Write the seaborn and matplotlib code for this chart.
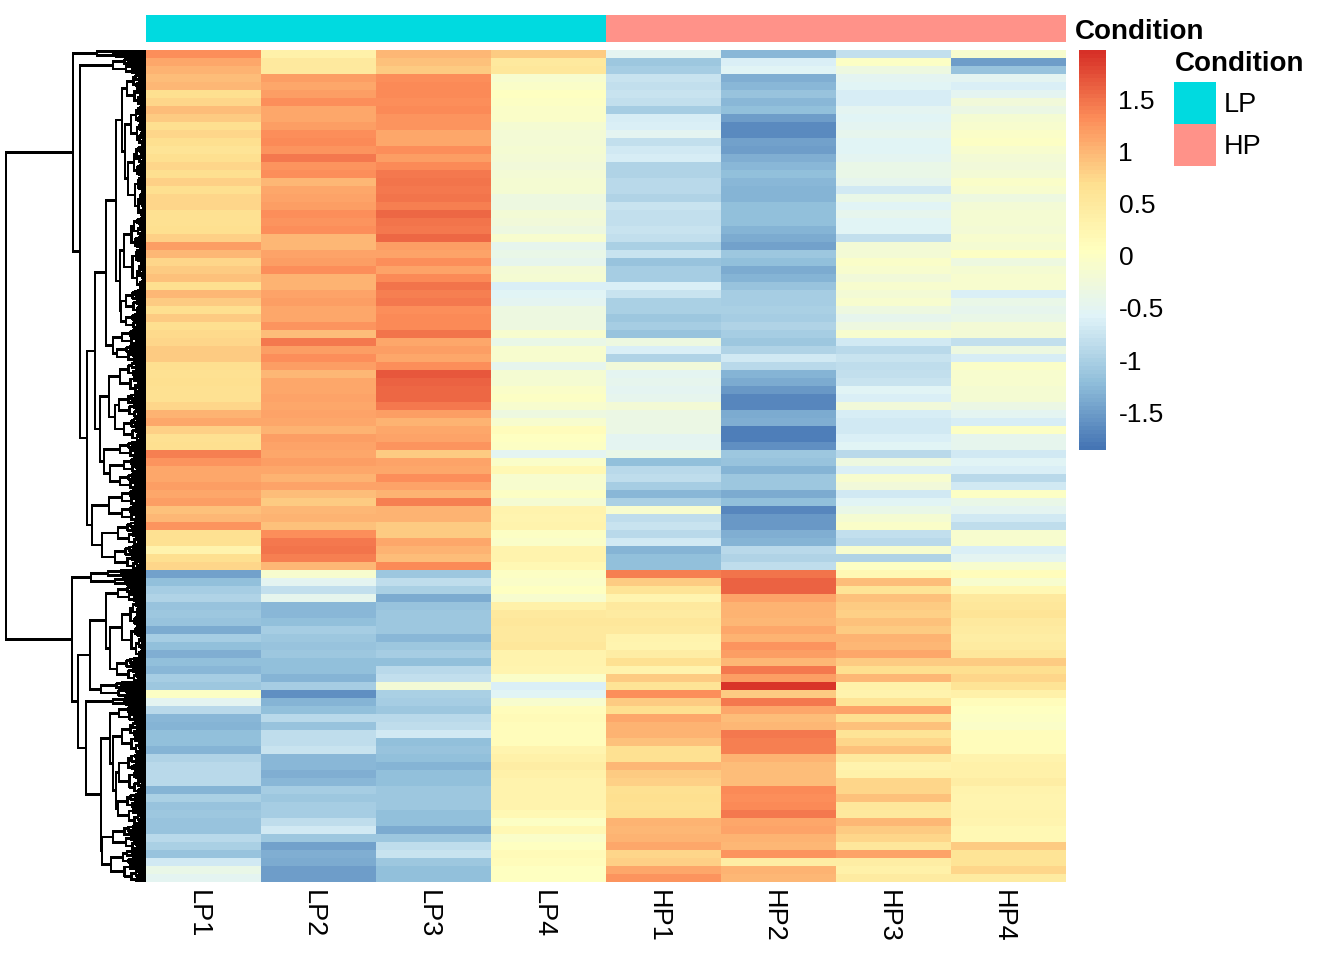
import matplotlib
matplotlib.use("Agg")
import matplotlib.pyplot as plt
from matplotlib.transforms import ScaledTranslation
import numpy as np
import pandas as pd
import seaborn as sns

# values, one list per sample, top row first
LP1 = [1.3, 1.1, 1.05, 0.95, 1.0, 0.68, 0.75, 0.95, 0.85, 0.7, 0.78, 0.68, 0.62, 0.7, 0.75, 0.68, 0.8, 0.68, 0.75, 0.78, 0.66, 0.66, 0.7, 0.8, 1.2, 1.0, 0.78, 0.85, 0.9, 0.68, 1.0, 0.85, 0.68,
       0.85, 0.7, 0.72, 0.78, 0.85, 0.85, 0.7, 0.65, 0.68, 0.64, 0.64, 0.78, 1.05, 1.1, 0.8, 0.65, 0.68, 1.4, 1.25, 1.1, 1.1, 1.2, 1.1, 1.2, 0.9, 1.0, 1.25, 0.65, 0.65, 0.3, 0.7, 0.78,
       -1.45, -1.2, -1.05, -0.95, -1.15, -1.1, -1.15, -1.4, -1.05, -1.2, -1.35, -1.2, -1.25, -1.05, -1.1, 0.0, -0.5, -0.9, -1.25, -1.3, -1.2, -1.2, -1.3, -0.95, -0.9, -0.9, -0.9, -1.3, -1.0, -1.15, -1.1, -1.15, -1.15, -0.9, -1.0, -1.15, -0.7, -0.4, -0.5]
LP2 = [0.35, 0.5, 0.5, 1.2, 1.1, 1.2, 1.3, 1.1, 1.1, 1.2, 1.3, 1.35, 1.25, 1.45, 1.25, 1.3, 1.0, 1.1, 1.15, 1.2, 1.3, 1.25, 1.3, 1.0, 1.0, 1.15, 1.2, 1.3, 1.05, 1.05, 1.15, 1.2, 1.1,
       1.1, 1.25, 0.95, 1.45, 1.2, 1.3, 1.2, 1.0, 1.1, 1.1, 1.15, 1.1, 1.15, 1.1, 1.05, 1.2, 1.15, 1.1, 1.2, 1.1, 1.05, 1.15, 0.95, 0.85, 1.0, 1.05, 0.9, 1.3, 1.45, 1.5, 1.4, 1.0,
       -0.1, -0.5, -0.8, -0.45, -1.25, -1.25, -1.2, -1.05, -1.1, -1.15, -1.1, -1.2, -1.2, -1.3, -1.05, -1.6, -1.3, -1.2, -0.9, -1.15, -0.85, -0.85, -0.75, -1.25, -1.25, -1.35, -1.25, -1.05, -1.1, -1.05, -1.05, -0.85, -0.7, -1.1, -1.45, -1.35, -1.4, -1.5, -1.5]
LP3 = [1.0, 0.9, 0.85, 1.3, 1.35, 1.35, 1.3, 1.35, 1.25, 1.25, 1.1, 1.1, 1.3, 1.2, 1.35, 1.45, 1.5, 1.45, 1.5, 1.4, 1.55, 1.5, 1.45, 1.55, 1.2, 1.15, 1.3, 1.15, 1.35, 1.5, 1.4, 1.45, 1.3,
       1.35, 1.35, 1.5, 1.1, 1.2, 1.1, 1.3, 1.7, 1.6, 1.55, 1.55, 1.45, 1.2, 1.05, 1.1, 1.15, 1.25, 0.85, 1.15, 1.1, 1.3, 1.15, 1.05, 1.4, 1.05, 1.05, 0.85, 0.85, 1.1, 1.05, 0.95, 1.35,
       -1.1, -0.85, -1.0, -1.4, -1.15, -1.1, -1.1, -1.1, -1.25, -1.1, -1.05, -1.2, -0.9, -0.8, -0.2, -1.0, -1.05, -1.1, -0.9, -0.85, -0.7, -1.2, -1.15, -1.2, -1.3, -1.2, -1.2, -1.1, -1.1, -1.1, -1.2, -1.2, -1.4, -1.1, -0.85, -0.75, -1.1, -1.2, -1.2]
LP4 = [0.85, 0.5, 0.55, -0.1, -0.05, 0.05, 0.0, -0.05, -0.05, -0.15, -0.2, -0.2, -0.15, -0.2, -0.25, -0.2, -0.15, -0.15, -0.3, -0.3, -0.2, -0.25, -0.3, -0.1, -0.45, -0.4, -0.45, -0.2, -0.15, -0.6, -0.55, -0.5, -0.3,
       -0.3, -0.3, -0.1, -0.4, -0.1, -0.1, -0.45, -0.15, -0.15, -0.05, 0.0, -0.1, -0.3, -0.1, 0.1, 0.05, 0.0, -0.5, -0.05, 0.2, -0.1, -0.1, 0.0, -0.15, 0.3, 0.25, 0.3, 0.0, -0.05, 0.3, 0.3, 0.2,
       0.0, -0.05, 0.05, -0.1, 0.35, 0.5, 0.55, 0.5, 0.5, 0.55, 0.3, 0.3, 0.25, -0.05, -0.6, -0.55, -0.1, 0.1, 0.15, 0.1, 0.1, 0.1, 0.25, 0.35, 0.4, 0.35, 0.3, 0.3, 0.3, 0.3, 0.2, 0.0, 0.2, -0.05, 0.05, 0.15, 0.1, 0.05, 0.05]
HP1 = [-0.5, -1.1, -1.05, -0.75, -0.8, -0.75, -0.8, -1.05, -0.65, -0.6, -0.5, -0.8, -0.7, -0.65, -0.95, -0.95, -0.9, -0.9, -0.95, -0.75, -0.8, -0.8, -0.75, -0.8, -1.0, -0.75, -1.15, -1.05, -1.05, -0.6, -0.75, -1.0, -1.0,
       -1.1, -1.05, -1.15, -0.3, -0.6, -0.95, -0.25, -0.5, -0.45, -0.5, -0.45, -0.2, -0.35, -0.35, -0.35, -0.5, -0.5, -0.4, -1.2, -0.9, -0.85, -1.05, -1.25, -1.0, -0.1, -0.85, -0.75, -0.9, -0.7, -1.3, -1.2, -1.2,
       1.4, 0.85, 0.6, 0.25, 0.5, 0.45, 0.55, 0.5, 0.3, 0.25, 0.4, 0.65, 0.3, 0.85, 0.6, 1.3, 0.85, 0.7, 1.1, 1.05, 1.05, 0.9, 0.65, 0.65, 1.0, 0.85, 0.8, 0.65, 0.7, 0.65, 0.7, 1.05, 1.0, 1.05, 1.1, 0.75, 0.8, 1.1, 1.25]
HP2 = [-1.25, -0.6, -0.55, -1.35, -1.25, -1.15, -1.25, -1.2, -1.5, -1.65, -1.65, -1.45, -1.5, -1.35, -1.25, -1.2, -1.25, -1.3, -1.3, -1.2, -1.2, -1.2, -1.3, -1.4, -1.45, -1.1, -1.2, -1.4, -1.3, -1.15, -1.05, -1.05, -1.0,
       -1.05, -0.95, -1.05, -1.1, -0.95, -0.7, -0.9, -1.3, -1.4, -1.55, -1.7, -1.7, -1.4, -1.35, -1.75, -1.75, -1.6, -1.1, -1.15, -1.3, -1.1, -1.1, -1.4, -1.2, -1.7, -1.55, -1.55, -1.35, -1.3, -0.9, -0.95, -0.85,
       1.5, 1.6, 1.6, 1.15, 1.05, 1.05, 1.0, 1.1, 1.05, 1.25, 1.2, 1.0, 1.45, 1.2, 1.9, 0.85, 1.45, 1.1, 0.95, 1.0, 1.45, 1.4, 1.4, 1.05, 0.95, 0.95, 0.95, 1.35, 1.3, 1.35, 1.45, 1.1, 1.15, 1.05, 1.0, 1.25, 0.4, 1.05, 1.0]
HP3 = [-0.8, 0.0, -0.3, -0.5, -0.55, -0.65, -0.65, -0.5, -0.55, -0.5, -0.45, -0.55, -0.55, -0.5, -0.4, -0.4, -0.45, -0.7, -0.4, -0.55, -0.45, -0.55, -0.55, -0.8, -0.2, -0.2, -0.05, -0.1, -0.25, -0.1, -0.2, -0.1, -0.3,
       -0.45, -0.3, -0.1, -0.7, -0.9, -0.75, -0.85, -0.8, -0.75, -0.55, -0.6, -0.25, -0.65, -0.7, -0.7, -0.6, -0.55, -0.9, -0.3, -0.6, -0.1, -0.25, -0.7, -0.55, -0.4, -0.15, -0.05, -0.8, -0.9, -0.1, -0.95, 0.0,
       0.2, 0.95, 0.6, 0.9, 0.85, 0.8, 0.9, 0.85, 1.05, 1.0, 1.1, 0.85, 0.7, 1.0, 0.35, 0.3, 0.6, 1.15, 0.7, 0.9, 0.6, 0.75, 0.9, 0.5, 0.3, 0.35, 0.75, 0.75, 0.9, 0.55, 0.5, 1.0, 0.85, 0.75, 0.55, 1.15, 0.4, 0.35, 0.45]
HP4 = [-0.1, -1.5, -1.15, -0.5, -0.6, -0.5, -0.25, -0.35, -0.15, -0.1, -0.05, 0.0, -0.1, -0.2, -0.25, -0.2, -0.05, -0.1, -0.3, -0.2, -0.15, -0.15, -0.2, -0.1, -0.15, 0.0, -0.3, -0.15, -0.1, -0.1, -0.6, -0.4, -0.45,
       -0.4, -0.2, -0.2, -0.8, -0.3, -0.65, -0.05, -0.1, -0.1, -0.15, -0.15, -0.35, -0.5, -0.65, 0.0, -0.45, -0.45, -0.7, -0.55, -0.6, -0.9, -0.7, 0.0, -0.4, -0.5, -0.7, -0.85, -0.1, -0.1, -0.6, -0.5, -0.1,
       0.1, -0.1, 0.2, 0.5, 0.55, 0.6, 0.5, 0.45, 0.4, 0.45, 0.55, 0.85, 0.7, 0.75, 0.6, 0.35, 0.1, 0.05, 0.0, -0.05, 0.1, 0.1, 0.1, 0.3, 0.35, 0.35, 0.4, 0.3, 0.25, 0.25, 0.3, 0.25, 0.2, 0.2, 0.85, 0.6, 0.6, 0.75, 0.45]

SAMPLES = ["LP1", "LP2", "LP3", "LP4", "HP1", "HP2", "HP3", "HP4"]
CONDITION = [0, 0, 0, 0, 1, 1, 1, 1]
CONDITION_NAMES = ["LP", "HP"]
CONDITION_COLORS = ["#00DAE0", "#FF9289"]
HEAT_COLORS = ["#4575B4", "#91BFDB", "#E0F3F8", "#FFFFBF", "#FEE090", "#FC8D59", "#D73027"]
CBAR_TICKS = [1.5, 1, 0.5, 0, -0.5, -1, -1.5]
CBAR_LABELS = ["1.5", "1", "0.5", "0", "-0.5", "-1", "-1.5"]
VMIN, VMAX = -1.86, 1.97

# row tree: (height, left, right), lists are bushes [height, first row, last row]
TREE_D1A = (30, (24, [19, 3, 6], (21, [15, 7, 11], [18, 12, 20])),
            (26, [22, 21, 29], (25, [20, 30, 32], [20, 33, 34])))
TREE_D1 = (40, TREE_D1A, (33, [24, 35, 36], [29, 37, 38]))
TREE_D2 = (46, (37, [26, 39, 42], (31, [27, 43, 45], [22, 46, 48])),
           (42, [26, 49, 50], (36, [22, 51, 52], [26, 53, 54])))
TREE_E = (54, (37, [24, 55, 56], [24, 57, 58]), (44, [28, 59, 61], [31, 62, 64]))
TREE_TOP = (73, [49, 0, 0], (66, [33, 1, 2], (59, (51, TREE_D1, TREE_D2), TREE_E)))
TREE_BE = (40, [28, 67, 68], (36, [24, 69, 75], [29, 76, 78]))
TREE_BG = (36, [27, 82, 83], (33, [24, 84, 87], (30, [27, 88, 92], [28, 93, 96])))
TREE_BF = (45, TREE_BG, (44, [33, 97, 99], [35, 100, 103]))
TREE_BOTTOM = (74, (55, [38, 65, 65], [31, 66, 66]),
               (68, (56, TREE_BE, [45, 79, 80]), (60, [33, 81, 81], TREE_BF)))
TREE = (140, TREE_TOP, TREE_BOTTOM)

BUSH_SPLITS = [0.42, 0.6, 0.35, 0.55, 0.68, 0.45, 0.3]
BUSH_DROPS = [0.66, 0.82, 0.74, 0.86, 0.7]

W, H = 1344, 960
plt.rcParams["font.family"] = ["Liberation Sans", "DejaVu Sans"]


def px_axes(fig, x0, y0, x1, y1):
    return fig.add_axes([x0 / W, 1 - y1 / H, (x1 - x0) / W, (y1 - y0) / H])


def draw_bush(xs, ys, top, bottom, height, depth=0):
    if bottom - top < 0.17 or height < 1.5:
        return (top + bottom) / 2, 0
    cut = top + (bottom - top) * BUSH_SPLITS[depth % len(BUSH_SPLITS)]
    drop = BUSH_DROPS[depth % len(BUSH_DROPS)]
    y_a = draw_bush(xs, ys, top, cut, height * drop, depth + 1)
    y_b = draw_bush(xs, ys, cut, bottom, height * drop * 0.92, depth + 2)
    return join(xs, ys, height, y_a, y_b), height


def join(xs, ys, height, a, b):
    xs += [a[1], height, height, b[1], np.nan]
    ys += [a[0], a[0], b[0], b[0], np.nan]
    return (a[0] + b[0]) / 2


def draw_tree(xs, ys, node):
    if isinstance(node, list):
        return draw_bush(xs, ys, node[1], node[2] + 1, node[0])
    a = draw_tree(xs, ys, node[1])
    b = draw_tree(xs, ys, node[2])
    return join(xs, ys, node[0], a, b), node[0]


data = pd.DataFrame(dict(zip(SAMPLES, [LP1, LP2, LP3, LP4, HP1, HP2, HP3, HP4])))
palette = sns.blend_palette(HEAT_COLORS, 100)

fig = plt.figure(figsize=(W / 100, H / 100), dpi=100)

# main heatmap and its colour bar
ax = px_axes(fig, 146, 50, 1066, 882)
cax = px_axes(fig, 1079, 50, 1106, 450)
sns.heatmap(data, ax=ax, cmap=palette, vmin=VMIN, vmax=VMAX, cbar_ax=cax, yticklabels=False)
ax.tick_params(axis="x", length=0, pad=6, labelsize=19.5)
plt.setp(ax.get_xticklabels(), rotation=270, ha="center", va="top")
ax.set_xlabel("")
shift = ScaledTranslation(-6 / 100, 0, fig.dpi_scale_trans)
for label in ax.get_xticklabels():
    label.set_transform(label.get_transform() + shift)

cax.set_yticks(CBAR_TICKS)
cax.set_yticklabels(CBAR_LABELS, fontsize=19)
cax.tick_params(axis="y", length=0, pad=9)

# annotation bar
bar_ax = px_axes(fig, 146, 15, 1066, 42)
sns.heatmap([CONDITION], ax=bar_ax, cmap=CONDITION_COLORS, cbar=False, xticklabels=False, yticklabels=False)
fig.text(1075 / W, 1 - 32 / H, "Condition", fontsize=20, fontweight="bold", va="center", ha="left")

# legend
legend_ax = px_axes(fig, 1174, 82, 1216, 166)
sns.heatmap([[0], [1]], ax=legend_ax, cmap=CONDITION_COLORS, cbar=False, xticklabels=False, yticklabels=False)
fig.text(1175 / W, 1 - 64 / H, "Condition", fontsize=20, fontweight="bold", va="center", ha="left")
for i, name in enumerate(CONDITION_NAMES):
    legend_ax.text(1.19, i + 0.55, name, fontsize=19.5, va="center", ha="left")

# row dendrogram
tree_ax = px_axes(fig, 0, 50, 146, 882)
xs, ys = [], []
draw_tree(xs, ys, TREE)
tree_ax.plot(xs, ys, color="black", lw=1.25, antialiased=False, solid_capstyle="projecting")
tree_ax.set_xlim(146, 0)
tree_ax.set_ylim(len(data), 0)
tree_ax.axis("off")

fig.savefig("out.png", dpi=100)
